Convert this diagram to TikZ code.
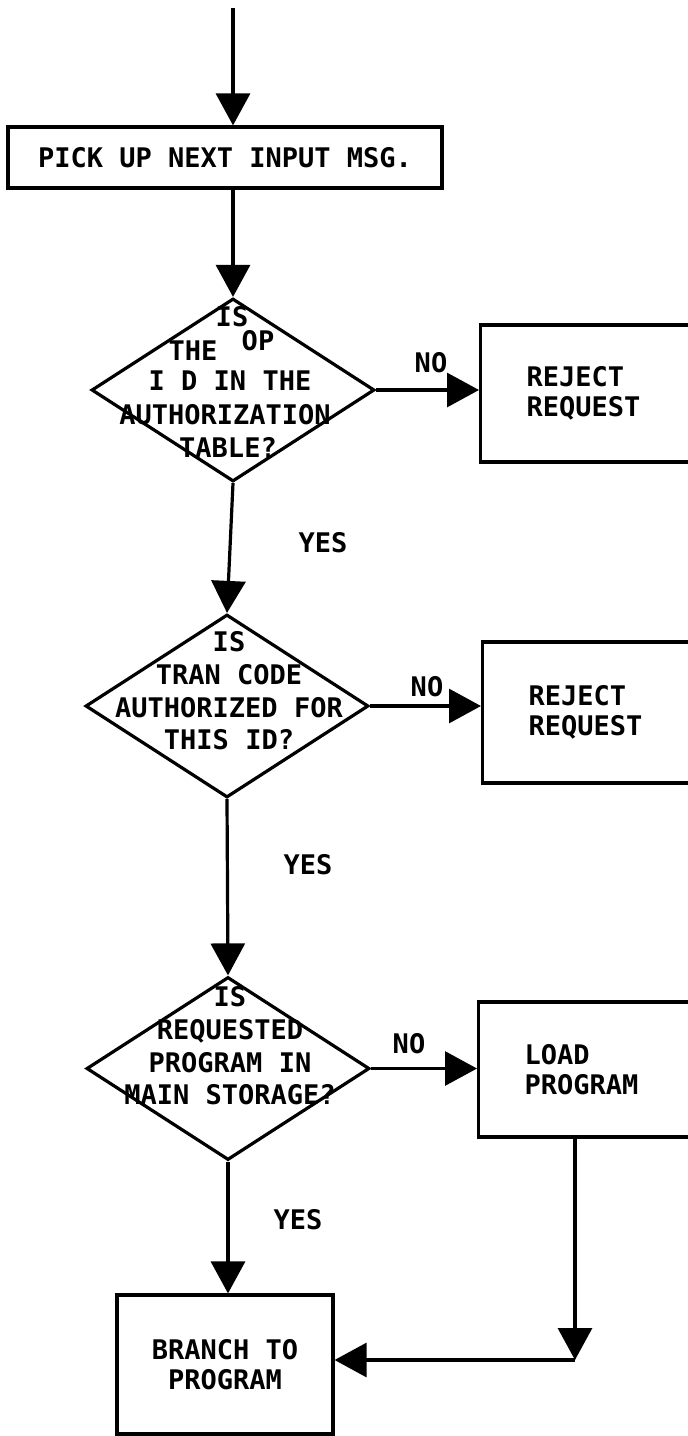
\documentclass[tikz,border=0pt]{standalone}
\usepackage{fontspec}
\setmonofont{DejaVu Sans Mono}
\usetikzlibrary{shapes.geometric,arrows.meta}

\begin{document}
\begin{tikzpicture}
        [x=0.5pt,y=-0.5pt,line width=1.6pt,
        >={Triangle[length=16pt,width=17pt]},
        every node/.style={font=\ttfamily\bfseries\fontsize{13.5pt}{15pt}\selectfont},
        proc/.style={draw,rectangle,inner sep=0pt,align=center},
        sidebox/.style={draw,rectangle,anchor=west,minimum height=#1,
            text width=74pt,inner xsep=23pt,inner ysep=0pt,align=left},
        decision/.style={diamond,draw,minimum width=141.5pt,minimum height=91.5pt,inner sep=0pt},
        dtext/.style={align=center,inner sep=0pt,
            font=\ttfamily\bfseries\fontsize{13.5pt}{16.3pt}\selectfont}]

        \useasboundingbox (0,0) rectangle (688,1436);

        \coordinate (start) at (233,8);
        \node[proc,minimum width=217pt,minimum height=30.5pt] (pick) at (225,157.5) {PICK UP NEXT INPUT MSG.};

        \node[decision] (opid) at (233,390) {};
        \node[inner sep=0pt] (opis) at (232,317) {IS};
        \node[inner sep=0pt] (opop) at (258,341) {OP};
        \node[inner sep=0pt] (opthe) at (193,351) {THE};
        \node[inner sep=0pt] (opline) at (230,381) {I D IN THE};
        \node[inner sep=0pt] (opauth) at (225,415) {AUTHORIZATION};
        \node[inner sep=0pt] (optab) at (228,447) {TABLE?};
        \node[sidebox=68.5pt] (reject1) at (479,393.5) {REJECT\\REQUEST};

        \node[decision] (tran) at (227,706) {};
        \node[dtext] (trantxt) at (229,691) {IS\\TRAN CODE\\AUTHORIZED FOR\\THIS ID?};
        \node[sidebox=70.5pt] (reject2) at (481,712.5) {REJECT\\REQUEST};

        \node[decision] (stor) at (228,1068.5) {};
        \node[dtext] (stortxt) at (230,1046) {IS\\REQUESTED\\PROGRAM IN\\MAIN STORAGE?};
        \node[sidebox=67.5pt] (load) at (477,1069.5) {LOAD\\PROGRAM};

        \node[proc,minimum width=108pt,minimum height=69.5pt] (branch) at (225,1364.5) {BRANCH TO\\PROGRAM};
        \coordinate (join) at (575,1360);

        \node (no1) at (431,363) {NO};
        \node (no2) at (427,687) {NO};
        \node (no3) at (409,1044) {NO};
        \node (yes1) at (323,543) {YES};
        \node (yes2) at (308,865) {YES};
        \node (yes3) at (298,1220) {YES};

        \draw[->] (start) -- (start |- pick.north);
        \draw[->] (pick.south -| opid.north) -- (opid.north);
        \draw[->] (opid.east) -- (opid.east -| reject1.west);
        \draw[->] (opid.south) -- (tran.north);
        \draw[->] (tran.east) -- (tran.east -| reject2.west);
        \draw[->] (tran.south) -- (stor.north);
        \draw[->] (stor.east) -- (stor.east -| load.west);
        \draw[->] (stor.south) -- (stor.south |- branch.north);
        \draw[->] (load.south -| join) -- (join);
        \draw[->] (join) -- (join -| branch.east);

    \end{tikzpicture}
\end{document}
